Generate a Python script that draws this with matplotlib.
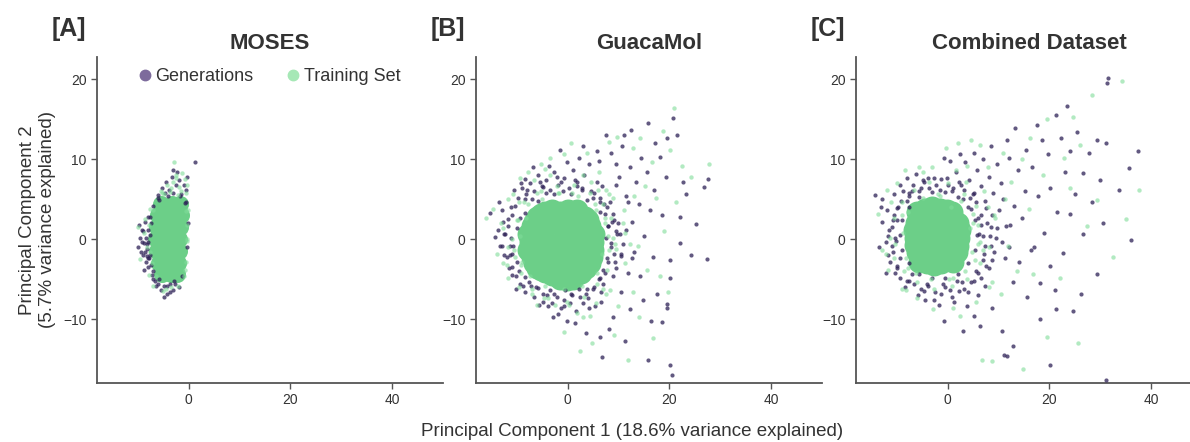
import matplotlib
matplotlib.use("Agg")
import matplotlib.pyplot as plt
from matplotlib.lines import Line2D

plt.rcParams['font.family'] = ['Liberation Sans', 'DejaVu Sans']
TXT = '#333333'

# panel titles / labels
titles = ['MOSES', 'GuacaMol', 'Combined Dataset']
letters = ['[A]', '[B]', '[C]']
x_ticks = [0, 20, 40]
y_ticks = [-10, 0, 10, 20]

# ---------------- MOSES ----------------
# dense centre of the training set cloud
moses_core = [(-5.4, 4.4), (-3.2, 4.4), (-1.6, 4.4),
              (-6.0, 3.0), (-3.8, 3.0), (-1.5, 3.0),
              (-6.3, 1.5), (-4.0, 1.5), (-1.6, 1.5),
              (-6.4, 0.0), (-4.2, 0.0), (-1.8, 0.0),
              (-6.2, -1.5), (-4.0, -1.5), (-1.9, -1.5),
              (-5.8, -3.0), (-3.8, -3.0), (-2.0, -3.0),
              (-5.2, -4.3), (-3.4, -4.3), (-2.2, -4.3)]
moses_gen = [(-9.8, 1.8), (-9.2, 1.2), (-8.6, 2.2), (-8.0, 2.8), (-9.5, 0.2), (-8.8, -0.5),
             (-8.2, -1.2), (-9.9, -1.0), (-9.0, -2.0), (-8.4, -2.8), (-7.9, -3.5), (-7.5, -2.0),
             (-7.6, 0.5), (-8.7, -3.8), (-7.2, -4.5), (-6.6, -5.2), (-6.0, -5.6), (-5.5, -6.3),
             (-4.8, -5.9), (-4.2, -6.8), (-3.6, -5.6), (-2.8, -5.2), (-3.0, -6.4), (-4.9, -7.2),
             (-7.9, -0.3), (-8.1, -2.1), (-8.0, -2.4), (-6.0, 5.5), (-5.2, 6.4), (-4.5, 7.2),
             (-3.8, 6.2), (-3.2, 7.8), (-2.5, 6.8), (-1.8, 7.4), (-1.0, 6.8), (-0.6, 6.2),
             (-2.2, 8.4), (-3.0, 8.6), (-1.5, 5.6), (-0.8, 4.5), (1.2, 9.7), (-4.0, 5.4),
             (-5.8, 4.9), (-0.4, 7.8), (-7.4, 2.0), (-7.0, -5.0), (-8.9, 1.0), (-9.4, -1.6),
             (-0.2, 2.0), (-0.4, -1.0), (-0.6, 4.6), (-1.2, -4.6), (-2.6, -5.6), (-4.2, -5.8),
             (-5.8, -5.0), (-7.0, -4.0), (-7.8, -2.4), (-8.2, -0.6), (-8.0, 1.2), (-7.6, 2.8),
             (-7.0, 4.2), (-6.0, 5.2), (-4.6, 5.8), (-3.0, 5.8), (-1.6, 5.4), (-8.6, -1.6),
             (-8.4, 0.2), (-9.2, -0.4), (-7.4, -3.2), (-6.4, -5.8), (-3.6, -6.6), (-1.8, -6.0)]
moses_train = [(-5.5, 6.0), (-4.2, 6.8), (-3.0, 7.2), (-1.8, 6.5), (-0.8, 7.5), (-2.5, 8.0),
               (-4.8, 5.6), (-0.5, 5.8), (-3.6, 5.9), (-2.0, 5.5), (-1.2, 8.3), (-2.8, 9.7),
               (-8.2, -1.0), (-8.8, 0.8), (-9.5, -2.5), (-7.8, -4.5), (-7.0, -5.8), (-5.0, -6.5),
               (-3.5, -6.0), (-0.5, 3.5), (-0.3, 0.0), (-0.6, -2.8), (-8.5, 2.5), (-10.0, 1.5),
               (-7.6, 3.8), (-7.2, -3.0), (-0.4, 1.8), (-1.0, -4.6), (-0.2, 3.6), (-0.3, -0.2),
               (-0.8, -3.8), (-2.0, -5.8), (-4.4, -6.2), (-6.4, -4.6), (-7.6, -1.6), (-7.8, 1.8),
               (-7.0, 3.6), (-5.2, 5.8), (-3.4, 6.4), (-1.4, 6.0), (-0.4, 6.8), (-2.4, 7.6)]

# ---------------- GuacaMol ----------------
guaca_core = [(-4.5, 3.4), (-1.5, 3.4), (1.5, 3.4), (-3.0, 3.7), (0.0, 3.7),
              (-7.0, 1.6), (-4.0, 1.6), (-1.0, 1.6), (2.0, 1.6), (4.5, 1.6),
              (-7.3, -0.3), (-4.3, -0.3), (-1.3, -0.3), (1.7, -0.3), (5.0, -0.3),
              (-7.0, -2.2), (-4.0, -2.2), (-1.0, -2.2), (2.0, -2.2), (4.8, -2.2),
              (-4.5, -4.1), (-1.5, -4.1), (1.5, -4.1), (-1.5, -5.0), (1.0, -5.0),
              (-6.0, 2.8), (3.4, 2.8), (-6.0, -3.6), (3.6, -3.6), (-7.8, 0.7), (-7.8, -1.3),
              (4.0, 2.4), (5.1, 0.7), (5.0, -1.3), (4.4, -3.0), (2.6, -4.2), (-0.2, -5.1),
              (-3.0, -4.5), (-5.3, -3.9), (-6.6, -3.0), (-5.3, 3.2), (-6.6, 2.2), (1.8, 3.6)]
guaca_gen = [(-11.8, 2.5), (-12.4, 0.6), (-11.4, -0.8), (-12.0, -2.2), (-11.0, -3.5), (-10.2, -4.6),
             (-11.2, 4.0), (-12.8, 3.6), (-13.5, 4.6), (-13.6, 1.2), (-14.3, 0.3), (-11.4, -2.0),
             (-13.2, -0.9), (-15.2, 3.3), (-9.8, 5.2), (-9.0, 6.4), (-8.2, 5.6), (-7.4, 7.0),
             (-6.6, 6.0), (-5.8, 8.0), (-5.0, 6.6), (-4.2, 7.4), (-3.4, 6.2), (-2.6, 8.4),
             (-8.4, 7.5), (-10.6, 6.2), (-6.8, 9.0), (-1.8, 6.8), (-0.8, 7.6), (0.2, 6.4),
             (1.0, 8.6), (1.8, 7.2), (2.8, 6.2), (3.2, 8.0), (-0.2, 9.6), (2.2, 10.2),
             (4.2, 9.4), (3.1, 11.7), (5.7, 11.0), (-1.5, 11.2), (5.2, 5.8), (6.4, 4.6),
             (7.4, 3.2), (8.0, 1.6), (7.6, 0.2), (8.6, -1.0), (7.8, -2.4), (7.0, -3.8),
             (6.2, -5.0), (9.2, 2.4), (9.8, 0.6), (9.4, -2.8), (8.4, 4.6), (10.4, -1.8),
             (6.8, 6.6), (5.0, -6.2), (3.6, -6.8), (2.2, -6.2), (0.8, -7.0), (-0.6, -6.4),
             (-2.0, -7.2), (-3.4, -6.4), (-4.8, -6.8), (-6.2, -6.0), (-7.6, -5.4), (-8.8, -5.8),
             (-1.2, -8.6), (1.6, -9.0), (4.2, -8.6), (-3.8, -8.4), (6.6, -7.8), (-5.6, -8.2),
             (-0.2, -10.2), (7.5, 13.0), (8.6, 10.8), (10.6, 11.6), (12.5, 13.7), (15.9, 14.6),
             (20.7, 15.2), (21.5, 13.1), (19.6, 12.7), (18.1, 10.3), (17.2, 12.0), (14.4, 10.2),
             (12.2, 9.0), (10.2, 7.8), (13.4, 7.2), (15.6, 8.4), (17.0, 6.2), (19.4, 7.8),
             (22.7, 7.2), (23.3, 5.7), (11.4, 5.4), (14.0, 4.4), (16.2, 3.6), (12.6, 2.2),
             (18.6, 3.0), (9.6, 9.4), (6.2, 9.8), (11.0, 13.0), (22.1, 2.8), (22.1, -0.5),
             (20.1, -2.6), (20.1, -4.9), (25.3, 1.9), (24.3, -2.0), (27.4, -2.5), (27.6, 7.5),
             (26.9, 6.5), (15.0, 0.4), (13.0, -1.6), (16.8, -2.2), (11.8, -4.2), (14.2, -4.6),
             (17.5, -6.8), (14.8, -7.6), (12.2, -8.8), (8.9, -9.7), (10.4, -6.6), (16.3, -10.2),
             (18.5, -10.4), (19.6, -8.1), (19.6, -8.6), (1.4, -10.5), (3.7, -11.7), (6.3, -12.3),
             (11.2, -12.8), (6.8, -14.7), (15.8, -15.1), (20.1, -15.8), (20.6, -17.0), (8.2, -11.2),
             (-2.8, -9.8),
             # edge of the dense centre
             (8.6, -0.5), (8.0, 1.6), (6.4, 3.4), (3.8, 4.9), (0.6, 5.6), (-2.6, 5.7),
             (-5.8, 4.8), (-8.4, 3.3), (-10.0, 1.4), (-10.7, -0.8), (-10.0, -2.9), (-8.4, -4.7),
             (-5.8, -6.1), (-2.6, -6.9), (0.7, -6.9), (3.8, -6.2), (6.4, -4.8), (8.0, -2.9),
             (10.3, 0.6), (9.0, 3.1), (6.4, 5.1), (2.9, 6.4), (-1.2, 7.1), (-4.9, 6.5),
             (-8.4, 5.0), (-11.0, 3.0), (-12.3, 0.6), (-12.4, -2.0), (-10.9, -4.5), (-8.4, -6.6),
             (-4.9, -7.8), (-0.8, -8.4), (3.0, -8.0), (6.5, -6.6), (9.0, -4.6), (10.5, -2.1),
             (9.5, 1.0), (7.8, 4.0), (5.0, 5.2), (1.8, 6.6), (-1.0, 6.0), (-4.2, 5.8),
             (-7.0, 5.0), (-9.4, 2.6), (-11.2, 0.2), (-11.0, -1.8), (-9.6, -4.0), (-7.2, -5.8),
             (-4.0, -7.0), (-0.8, -7.6), (2.4, -7.2), (5.2, -6.0), (7.4, -4.2), (9.2, -1.8),
             (8.8, 2.2), (7.2, 4.4), (4.6, 6.0), (1.4, 7.4), (-2.0, 7.8), (-5.4, 7.2),
             (-8.0, 6.2), (-10.4, 4.2), (-11.8, 1.6), (-12.8, -0.8), (-11.6, -3.6), (-9.4, -5.6),
             (-6.6, -7.2), (-3.0, -8.0), (0.4, -8.0), (4.0, -7.4), (7.0, -5.6), (9.6, -3.6),
             (10.8, -0.6), (10.0, 2.0), (5.8, 7.2), (-3.6, 9.2), (-9.2, 7.0), (-12.6, 2.2),
             (-10.2, -6.2), (-1.8, -9.4), (5.4, -8.4), (11.4, 1.2), (11.8, 4.6), (9.6, 6.8),
             (12.6, -2.4)]
guaca_train = [(-16.1, 2.6), (-14.6, 3.8), (-13.0, 2.0), (-12.6, -3.0), (-13.8, -1.8), (-10.8, 5.6),
               (-11.8, 5.0), (-9.4, 7.6), (-7.8, 8.4), (-5.2, 9.4), (-3.4, 10.2), (-0.8, 10.6),
               (0.6, 12.0), (-4.4, 8.8), (0.8, 5.8), (-1.6, 5.8), (4.6, 7.2), (3.8, 10.8),
               (6.2, 8.4), (7.6, 6.2), (8.2, 12.2), (9.8, 12.8), (12.8, 11.4), (14.2, 12.6),
               (16.6, 9.6), (18.8, 13.6), (21.0, 16.4), (20.2, 11.2), (22.4, 9.2), (27.7, 9.4),
               (24.2, 7.8), (21.4, 4.6), (19.0, 1.0), (17.4, 5.2), (15.2, 6.6), (13.0, 5.4),
               (11.0, 3.6), (9.0, 5.2), (9.4, -0.6), (11.2, 0.8), (13.8, -0.8), (15.6, -3.8),
               (18.2, -4.6), (19.8, -6.6), (12.8, -6.6), (10.0, -8.4), (8.4, -6.4), (7.0, -6.2),
               (5.6, -8.0), (3.0, -9.8), (0.2, -8.2), (-2.4, -8.2), (-4.6, -7.4), (-7.0, -6.8),
               (-9.6, -6.0), (-11.8, -4.8), (-10.6, -1.4), (-10.0, 2.4), (-8.6, 4.6), (9.2, -12.0),
               (11.9, -15.1), (14.0, -9.8), (16.8, -12.4), (4.8, -13.0), (-0.8, -11.6), (2.4, -14.0),
               (7.4, 2.0), (6.8, -1.8), (5.6, 3.6), (-6.0, 5.8), (-9.2, -3.2),
               (9.0, 0.2), (8.6, 2.6), (7.0, 4.4), (4.4, 5.8), (1.2, 6.8), (-2.0, 6.6),
               (-5.2, 6.0), (-7.8, 4.4), (-9.8, 2.4), (-11.0, 0.0), (-10.4, -2.2), (-9.2, -4.2),
               (-7.0, -6.2), (-3.8, -7.4), (-0.2, -7.8), (3.2, -7.2), (5.8, -5.6), (7.8, -3.8),
               (9.6, -1.2), (10.8, 2.0), (8.2, 5.6), (3.0, 8.0), (-3.4, 8.0), (-9.6, 4.6),
               (-12.6, 1.4), (-12.0, -3.2), (-6.0, -8.2), (1.8, -9.2), (7.6, -6.8), (11.2, -3.0),
               (8.2, -1.4), (7.4, 2.6), (5.4, 4.4), (2.0, 5.4), (-1.8, 5.8), (-5.0, 5.0),
               (-8.2, 2.6), (-9.4, 0.4), (-9.0, -2.8), (-7.4, -4.6), (-4.4, -5.8), (-0.8, -6.2),
               (2.8, -5.8), (5.8, -4.2), (8.0, 0.4), (-6.6, 7.4), (-11.8, -1.0), (4.4, -9.6),
               (12.2, -0.6), (6.0, 6.2)]

# ---------------- Combined ----------------
comb_core = [(-4.5, 3.8), (-1.5, 3.8),
             (-6.3, 2.0), (-3.4, 2.0), (-0.5, 2.0), (2.0, 2.0),
             (-6.5, 0.2), (-3.5, 0.2), (-0.5, 0.2), (2.2, 0.2),
             (-6.0, -1.6), (-3.2, -1.6), (-0.4, -1.6), (1.8, -1.6),
             (-4.0, -3.0), (-1.2, -3.0), (-6.0, 3.4), (0.8, 3.4), (-5.6, -2.8), (1.0, -2.8),
             (-3.0, 4.0), (-0.2, 3.6), (2.4, 1.1), (2.1, -0.8), (-2.6, -3.2), (-6.6, 1.1),
             (-6.4, -0.7)]
comb_gen = [(-12.9, 5.0), (-14.2, 5.5), (-11.9, 3.7), (-10.8, 2.4), (-11.6, 1.2), (-10.4, 0.2),
            (-12.2, -0.4), (-10.8, -1.6), (-11.4, -2.8), (-10.0, -3.6), (-9.4, -4.8), (-12.8, 2.2),
            (-13.4, -1.0), (-9.8, 4.0), (-10.6, 5.6), (-8.8, 6.0), (-7.6, 5.4), (-6.8, 6.8),
            (-5.6, 6.0), (-4.8, 7.4), (-3.6, 6.4), (-2.6, 7.6), (-1.4, 6.2), (-8.0, 7.6),
            (-6.2, 8.2), (-9.4, 6.8), (-0.2, 7.6), (0.8, 6.0), (1.6, 8.4), (2.6, 6.8),
            (3.4, 9.6), (4.2, 7.4), (5.0, 5.6), (5.8, 8.6), (6.6, 6.6), (7.4, 4.8),
            (8.2, 7.8), (9.0, 5.8), (4.6, 3.8), (6.0, 2.6), (7.8, 2.0), (2.4, 10.6),
            (0.4, 9.8), (5.2, 10.8), (7.0, 10.0), (9.8, 9.4), (8.6, 11.6), (10.4, 7.0),
            (-0.8, 10.2), (3.0, 5.0), (6.2, 0.6), (7.4, -0.8), (8.4, 0.4), (9.2, -1.6),
            (7.0, -2.6), (8.2, -3.6), (6.0, -4.2), (9.8, 1.4), (10.6, -0.4), (10.2, 3.6),
            (11.2, -2.4), (4.6, -5.4), (3.2, -6.2), (1.8, -5.2), (0.4, -6.4), (-1.0, -5.6),
            (-2.4, -6.6), (-3.8, -5.8), (-5.2, -6.2), (-6.6, -5.6), (-8.0, -5.2), (-4.4, -7.6),
            (-1.6, -8.2), (1.2, -7.8), (3.8, -8.4), (6.0, -7.0), (7.4, -5.8), (5.2, -9.6),
            (-0.8, -10.3), (3.1, -11.5), (6.4, -10.9), (10.6, -11.5), (8.8, -8.6), (11.6, 12.4),
            (13.2, 13.9), (12.0, 10.2), (13.8, 8.6), (15.4, 11.2), (16.6, 9.0), (17.5, 14.3),
            (18.6, 12.4), (19.8, 10.6), (21.4, 15.5), (23.4, 16.7), (22.2, 12.6), (24.0, 11.0),
            (25.4, 13.4), (26.6, 8.3), (29.9, 7.4), (29.3, 12.4), (31.2, 12.0), (31.5, 20.2),
            (31.4, 19.6), (27.8, 10.8), (23.0, 8.4), (20.2, 6.4), (17.8, 5.4), (15.2, 6.0),
            (13.0, 4.2), (12.2, 1.8), (14.6, 2.6), (37.4, 11.0), (35.7, 8.9), (33.6, 6.2),
            (28.4, 4.6), (25.0, 5.6), (21.6, 3.4), (24.0, 3.2), (26.6, 0.7), (30.5, 2.0),
            (22.7, -1.7), (20.1, -3.4), (18.1, -5.5), (21.1, -6.3), (29.3, -4.3), (36.1, -0.1),
            (16.4, -1.4), (14.0, -2.8), (12.8, -5.4), (15.6, -7.2), (24.7, -9.0), (26.3, -6.8),
            (21.4, -8.8), (18.1, -10.0), (12.9, -13.4), (11.6, -14.6), (11.0, -14.5), (20.1, -15.8),
            (31.2, -17.6), (17.0, -1.0), (19.0, 0.8),
            # edge of the dense centre
            (5.8, 0.5), (5.3, 2.4), (4.0, 4.0), (2.0, 5.3), (-0.5, 5.9), (-3.1, 5.9),
            (-5.6, 5.3), (-7.6, 4.0), (-8.9, 2.4), (-9.4, 0.5), (-8.9, -1.4), (-7.6, -3.0),
            (-5.6, -4.3), (-3.1, -4.9), (-0.5, -4.9), (2.0, -4.3), (4.0, -3.0), (5.3, -1.4),
            (8.6, 1.5), (7.5, 3.9), (5.2, 5.8), (2.2, 7.1), (-1.2, 7.5), (-4.6, 7.1),
            (-7.6, 5.8), (-9.9, 3.9), (-11.0, 1.5), (-11.0, -0.9), (-9.9, -3.3), (-7.6, -5.2),
            (-4.6, -6.5), (-1.2, -6.9), (2.2, -6.5), (5.2, -5.2), (7.5, -3.3), (8.6, -0.9),
            (7.0, 0.4), (6.6, 3.0), (4.4, 5.2), (1.0, 6.4), (-2.2, 6.8), (-5.2, 6.4),
            (-8.0, 4.8), (-10.0, 2.4), (-10.2, -0.2), (-9.4, -2.4), (-7.0, -4.4), (-4.0, -5.6),
            (-0.6, -6.0), (2.8, -5.4), (5.6, -4.0), (7.2, -1.8),
            (6.6, 1.8), (5.6, 4.6), (3.2, 6.2), (0.0, 6.8), (-3.8, 7.6), (-7.0, 6.0),
            (-9.2, 4.8), (-10.6, 3.0), (-11.8, 0.4), (-11.8, -2.0), (-10.4, -4.2), (-8.4, -6.0),
            (-5.8, -7.0), (-2.6, -7.6), (0.8, -7.2), (4.0, -6.6), (6.6, -4.8), (8.8, -2.6),
            (9.6, 0.2), (8.8, 3.0), (11.4, 1.6), (12.0, -1.0), (10.8, 5.0), (-13.0, 4.0),
            (-12.2, -4.2)]
comb_train = [(-12.9, -1.3), (-13.6, 3.2), (-12.0, 6.2), (-10.0, 7.0), (-8.4, 8.6), (-5.6, 9.0),
              (-3.0, 9.0), (-1.8, 5.6), (0.6, 4.0), (-0.4, 11.4), (2.0, 12.0), (4.6, 12.4),
              (6.4, 11.8), (8.0, 9.0), (10.8, 10.8), (12.4, 7.2), (14.6, 10.0), (16.2, 12.6),
              (19.5, 15.1), (24.7, 15.3), (28.3, 18.0), (34.2, 19.8), (22.8, 10.2), (26.0, 11.8),
              (29.3, 4.9), (37.7, 6.2), (35.1, 2.5), (32.5, -2.2), (24.0, 6.4), (18.8, 8.0),
              (16.0, 3.8), (11.2, 5.0), (9.2, 3.0), (11.8, -0.8), (13.6, -4.0), (16.8, -4.4),
              (10.4, -6.8), (8.2, -6.0), (5.6, -7.8), (2.4, -9.6), (-2.8, -8.8), (-6.0, -7.4),
              (-9.0, -6.2), (-11.8, -3.8), (19.6, -12.3), (8.7, -15.3), (6.7, -15.1), (14.9, -16.3),
              (25.6, -13.0), (22.0, -4.8), (27.4, 1.6), (5.0, 2.0), (7.0, -1.4), (-10.4, -0.6),
              (-9.0, 3.0), (-7.8, -3.6), (3.6, 7.2), (1.0, -4.8),
              (6.4, -0.4), (6.0, 1.8), (5.6, 4.2), (3.2, 5.6), (0.0, 7.0), (-3.6, 7.2),
              (-6.6, 6.2), (-9.0, 4.6), (-10.6, 2.6), (-11.4, 0.2), (-10.6, -2.4), (-8.6, -4.0),
              (-6.0, -5.4), (-2.6, -6.2), (0.8, -5.8), (3.8, -5.0), (6.4, -3.0), (8.2, -1.0),
              (9.4, 2.6), (7.2, 6.0), (1.6, 8.6), (-4.8, 8.4), (-12.2, -1.8), (-8.2, -6.4),
              (1.0, -8.6), (8.8, -5.4), (4.4, 1.4), (4.8, -1.6),
              (6.0, -0.6), (5.0, 3.2), (2.6, 4.8), (-1.4, 5.4), (-4.8, 5.2), (-7.8, 3.4),
              (-8.8, 0.8), (-8.2, -2.4), (-6.2, -4.2), (-3.2, -5.0), (0.2, -5.0), (3.4, -4.0),
              (5.4, -2.6), (8.0, 4.0), (-11.2, 4.6), (3.8, 9.2)]

panels = [(moses_core, moses_gen, moses_train),
          (guaca_core, guaca_gen, guaca_train),
          (comb_core, comb_gen, comb_train)]

GEN_C = '#2e2157'
TRAIN_C = '#7fdc99'
CORE_C = '#6ccf88'

fig = plt.figure(figsize=(11.9, 4.42), dpi=100)
lefts = [97 / 1190, 476 / 1190, 856 / 1190]
core_size = [150, 250, 250]

for i, (core, gen, train) in enumerate(panels):
    ax = fig.add_axes([lefts[i], 59 / 442, 346 / 1190, 326 / 442])
    cx, cy = zip(*core)
    gx, gy = zip(*gen)
    tx, ty = zip(*train)
    ax.scatter(cx, cy, s=core_size[i], color=CORE_C, linewidths=0, zorder=2)
    ax.scatter(gx, gy, s=9, color=GEN_C, alpha=0.75, linewidths=0, zorder=3)
    ax.scatter(tx, ty, s=10, color=TRAIN_C, alpha=0.6, linewidths=0, zorder=4)

    ax.set_xlim(-18, 50)
    ax.set_ylim(-18, 22.8)
    ax.set_xticks(x_ticks)
    ax.set_yticks(y_ticks)
    ax.set_yticklabels(['\u221210', '0', '10', '20'])
    for s in ['top', 'right']:
        ax.spines[s].set_visible(False)
    for s in ['left', 'bottom']:
        ax.spines[s].set_color('#555555')
        ax.spines[s].set_linewidth(1.3)
    ax.tick_params(labelsize=10, colors='#555555', labelcolor=TXT, length=4, width=1)
    ax.set_title(titles[i], fontsize=16, fontweight='bold', color=TXT, pad=6)
    fig.text(lefts[i] - 45 / 1190, 1 - 36 / 442, letters[i], fontsize=18,
             fontweight='bold', color=TXT, ha='left', va='baseline')

    if i == 0:
        handles = [Line2D([], [], marker='o', ls='', markersize=7.5, color='#7d6b9c'),
                   Line2D([], [], marker='o', ls='', markersize=7.5, color='#a6e8b6')]
        ax.legend(handles, ['Generations', 'Training Set'], loc='upper center',
                  bbox_to_anchor=(0.5, 1.0), ncol=2, frameon=False, fontsize=13,
                  handlelength=0.6, handletextpad=0.3, columnspacing=1.9,
                  labelcolor=TXT, borderaxespad=0.2)

fig.text(37.5 / 1190, 1 - 220 / 442, 'Principal Component 2\n(5.7% variance explained)',
         rotation=90, ha='center', va='center', fontsize=13.5, color=TXT, linespacing=1.25)
fig.text(632 / 1190, 1 - 432 / 442, 'Principal Component 1 (18.6% variance explained)',
         ha='center', va='center', fontsize=13.5, color=TXT)

fig.savefig('out.png', dpi=100)
